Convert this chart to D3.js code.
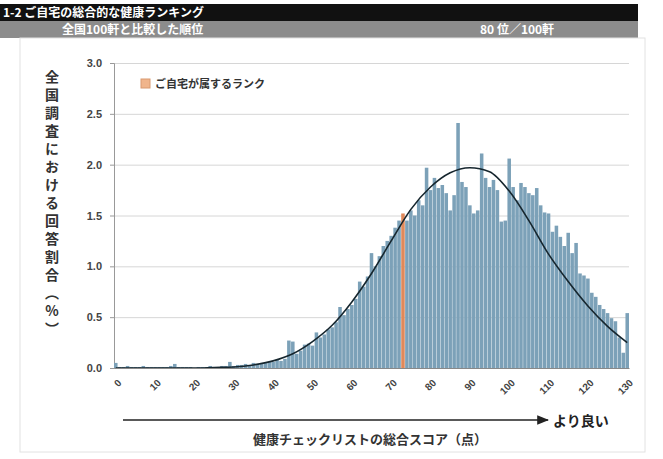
<!DOCTYPE html>
<html>
<head>
<meta charset="utf-8">
<script src="https://cdn.jsdelivr.net/npm/d3@7"></script>
<style>
  body { margin: 0; background: #fff; }
  svg { font-family: "Noto Sans CJK JP", "Noto Sans", sans-serif; }
</style>
</head>
<body>
<svg id="chart" width="663" height="459"></svg>
<script>
// scores 0..130, share of respondents (%)
const scores = d3.range(0, 131);
const shares = [
  0.05, 0.01, 0.01, 0.02, 0.01, 0.01, 0.01, 0.02, 0.01, 0.01,
  0.01, 0.01, 0.01, 0.01, 0.02, 0.04, 0.01, 0.01, 0.01, 0.01,
  0.0, 0.01, 0.01, 0.01, 0.02, 0.01, 0.01, 0.02, 0.02, 0.06,
  0.02, 0.03, 0.03, 0.04, 0.03, 0.05, 0.04, 0.04, 0.05, 0.06,
  0.06, 0.08, 0.07, 0.09, 0.27, 0.26, 0.14, 0.17, 0.23, 0.24,
  0.22, 0.35, 0.30, 0.33, 0.38, 0.40, 0.45, 0.60, 0.52, 0.58,
  0.62, 0.68, 0.85, 0.80, 0.90, 1.13, 1.00, 1.10, 1.20, 1.25,
  1.30, 1.38, 1.45, 1.52, 1.45, 1.55, 1.50, 1.65, 1.60, 1.97,
  1.75, 1.87, 1.77, 1.80, 1.72, 1.55, 1.70, 2.41, 1.83, 1.78,
  1.60, 1.52, 1.55, 2.11, 1.87, 1.78, 1.85, 1.75, 1.44, 1.45,
  2.06, 1.78, 1.65, 1.82, 1.78, 1.72, 1.70, 1.77, 1.60, 1.53,
  1.52, 1.34, 1.40, 1.29, 1.20, 1.33, 1.13, 1.23, 0.93, 0.91,
  0.88, 0.74, 0.70, 0.62, 0.58, 0.54, 0.49, 0.46, 0.30, 0.15,
  0.54
];
const myScore = 73;

// fitted curve
const curveX = [0, 10, 20, 25, 30, 35, 40, 45, 50, 55, 60, 65, 70, 75, 80, 85, 90, 95, 100, 105, 110, 115, 120, 125, 130];
const curveY = [0, 0, 0, 0.005, 0.01, 0.03, 0.07, 0.14, 0.26, 0.42, 0.65, 0.93, 1.25, 1.56, 1.78, 1.92, 1.97, 1.93, 1.74, 1.45, 1.12, 0.85, 0.61, 0.41, 0.25];

const yTicks = [0, 0.5, 1.0, 1.5, 2.0, 2.5, 3.0];
const xTicks = d3.range(0, 131, 10);

const margin = { left: 114, right: 34, top: 63, bottom: 91 };
const W = 663, H = 459;
const width = W - margin.left - margin.right;
const height = H - margin.top - margin.bottom;

const svg = d3.select("#chart");

// header bars
svg.append("rect").attr("x", 0).attr("y", 4).attr("width", 638).attr("height", 17).attr("fill", "#111");
svg.append("rect").attr("x", 0).attr("y", 21).attr("width", 638).attr("height", 17).attr("fill", "#8c8c8c");
svg.append("text").attr("x", 3).attr("y", 16.5).attr("fill", "#fff")
  .attr("font-size", 12).attr("font-weight", "bold").text("1-2  ご自宅の総合的な健康ランキング");
svg.append("text").attr("x", 62).attr("y", 34).attr("fill", "#fff")
  .attr("font-size", 12).attr("font-weight", "bold").text("全国100軒と比較した順位");
svg.append("text").attr("x", 480).attr("y", 34).attr("fill", "#fff")
  .attr("font-size", 12).attr("font-weight", "bold").text("80 位／100軒");

// frame
svg.append("rect").attr("x", 20).attr("y", 38).attr("width", 625).attr("height", 414)
  .attr("fill", "none").attr("stroke", "#e2e2e2");

const g = svg.append("g").attr("transform", `translate(${margin.left},${margin.top})`);

const x = d3.scaleBand().domain(scores).range([0, width]).paddingInner(0.1);
const y = d3.scaleLinear().domain([0, 3]).range([height, 0]);
const xc = s => x(s) + x.bandwidth() / 2;

// gridlines
g.append("g")
  .call(d3.axisLeft(y).tickValues(yTicks).tickSize(-width).tickFormat(""))
  .call(a => a.selectAll("line").attr("stroke", "#d6d6d6"))
  .call(a => a.select(".domain").remove());

// y axis
g.append("g")
  .call(d3.axisLeft(y).tickValues(yTicks).tickSize(4).tickPadding(8).tickFormat(d3.format(".1f")))
  .call(a => a.select(".domain").attr("stroke", "#999"))
  .call(a => a.selectAll("line").attr("stroke", "#999"))
  .call(a => a.selectAll("text").attr("font-size", 11).attr("font-weight", "bold")
    .attr("fill", "#444").attr("font-family", "Arial, 'Liberation Sans', sans-serif"));

// bars
g.selectAll("rect.bar")
  .data(scores)
  .enter()
  .append("rect")
  .attr("class", "bar")
  .attr("x", s => x(s))
  .attr("y", s => y(shares[s]))
  .attr("width", x.bandwidth())
  .attr("height", s => y(0) - y(shares[s]))
  .attr("fill", s => (s === myScore ? "#e0895a" : "#7ca1b8"));

// curve
const line = d3.line()
  .x((d, i) => xc(curveX[i]))
  .y(d => y(d))
  .curve(d3.curveMonotoneX);
g.append("path")
  .attr("d", line(curveY))
  .attr("fill", "none")
  .attr("stroke", "#16262e")
  .attr("stroke-width", 1.6);

// x axis (labels drawn rotated by hand)
g.append("g")
  .attr("transform", `translate(0,${height})`)
  .call(d3.axisBottom(x).tickValues(xTicks).tickSize(0).tickFormat(""))
  .call(a => a.select(".domain").attr("stroke", "#888"));

g.append("g").selectAll("g")
  .data(xTicks)
  .enter()
  .append("g")
  .attr("transform", d => `translate(${xc(d) + 4},${height + 13}) rotate(-45)`)
  .append("text")
  .attr("text-anchor", "end")
  .attr("dy", "0.35em")
  .attr("font-size", 10).attr("font-weight", "bold").attr("fill", "#444")
  .attr("font-family", "Arial, 'Liberation Sans', sans-serif")
  .text(d => d);

// legend
const lg = svg.append("g").attr("transform", "translate(141,79)");
lg.append("rect").attr("width", 9).attr("height", 9).attr("fill", "#f0b58c").attr("stroke", "#d99a70");
lg.append("text").attr("x", 14).attr("y", 9).attr("font-size", 11).attr("font-weight", "bold")
  .attr("fill", "#333").text("ご自宅が属するランク");

// y label
svg.append("text")
  .attr("x", 52).attr("y", 70)
  .attr("font-size", 14).attr("font-weight", "bold").attr("fill", "#333")
  .style("writing-mode", "vertical-rl")
  .style("text-orientation", "upright")
  .attr("letter-spacing", 4)
  .text("全国調査における回答割合（%）");

// arrow
svg.append("defs").append("marker")
  .attr("id", "arr").attr("viewBox", "0 0 10 10").attr("refX", 9).attr("refY", 5)
  .attr("markerWidth", 8).attr("markerHeight", 8).attr("orient", "auto")
  .append("path").attr("d", "M0,1 L10,5 L0,9 z").attr("fill", "#222");
svg.append("line").attr("x1", 123).attr("x2", 548).attr("y1", 420).attr("y2", 420)
  .attr("stroke", "#222").attr("stroke-width", 1.5).attr("marker-end", "url(#arr)");
svg.append("text").attr("x", 553).attr("y", 426).attr("font-size", 14).attr("font-weight", "bold")
  .attr("fill", "#222").text("より良い");
svg.append("text").attr("x", 370).attr("y", 444).attr("text-anchor", "middle")
  .attr("font-size", 13).attr("font-weight", "bold").attr("fill", "#333")
  .text("健康チェックリストの総合スコア（点）");
</script>
</body>
</html>
